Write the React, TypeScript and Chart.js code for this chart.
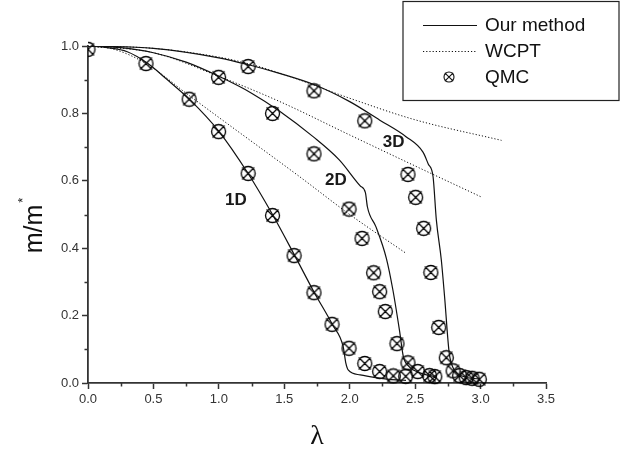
import React, { useEffect, useRef } from 'react';
import { Chart, registerables } from 'chart.js';

Chart.register(...registerables);

// ---- tick values ----
const xTickValues = [0, 0.5, 1.0, 1.5, 2.0, 2.5, 3.0, 3.5];
const yTickValues = [0, 0.2, 0.4, 0.6, 0.8, 1.0];

// ---- series names ----
const seriesNames = ['Our method', 'WCPT', 'QMC'];
const dimNames = ['1D', '2D', '3D'];

// ---- Our method (solid) ----
const method1D: number[][] = [
  [0, 1], [0.15, 0.995], [0.3, 0.983], [0.45, 0.95], [0.6, 0.902], [0.78, 0.84], [1.0, 0.747],
  [1.22, 0.624], [1.41, 0.5], [1.58, 0.378], [1.73, 0.268], [1.87, 0.172], [1.95, 0.108],
  [1.97, 0.06], [1.99, 0.038], [2.08, 0.024], [2.2, 0.016], [2.3, 0.011], [2.43, 0.008],
];
const method2D: number[][] = [
  [0, 1], [0.25, 0.995], [0.5, 0.98], [0.75, 0.952], [1.0, 0.91], [1.25, 0.86], [1.47, 0.805],
  [1.72, 0.731], [1.92, 0.662], [2.08, 0.585], [2.12, 0.565], [2.135, 0.523], [2.2, 0.464],
  [2.28, 0.37], [2.33, 0.276], [2.38, 0.157], [2.41, 0.078], [2.45, 0.05], [2.49, 0.038],
  [2.61, 0.022], [2.66, 0.019],
];
const method3D: number[][] = [
  [0, 1], [0.5, 0.993], [1.0, 0.965], [1.22, 0.945], [1.47, 0.918], [1.73, 0.885], [2.0, 0.835],
  [2.23, 0.78], [2.43, 0.731], [2.56, 0.685], [2.6, 0.65], [2.637, 0.612], [2.662, 0.484],
  [2.7, 0.365], [2.725, 0.256], [2.76, 0.09], [2.79, 0.045], [2.865, 0.02], [2.99, 0.012],
];

// ---- WCPT (dotted) ----
const wcpt1D: number[][] = [
  [0, 1], [0.2, 0.99], [0.443, 0.948], [0.773, 0.853], [1.0, 0.788], [1.618, 0.612], [2.0, 0.5], [2.43, 0.385],
];
const wcpt2D: number[][] = [
  [0, 1], [0.5, 0.98], [1.0, 0.91], [1.466, 0.835], [2.0, 0.736], [2.5, 0.644], [3.0, 0.553],
];
const wcpt3D: number[][] = [
  [0, 1], [0.5, 0.993], [1.0, 0.967], [1.25, 0.945], [1.5, 0.915], [2.0, 0.845], [2.5, 0.781], [3.16, 0.72],
];

// ---- QMC (markers) ----
const qmc1D: number[][] = [
  [0, 0.99], [0.443, 0.948], [0.773, 0.842], [0.998, 0.746], [1.224, 0.622], [1.41, 0.497],
  [1.575, 0.378], [1.727, 0.268], [1.865, 0.174], [1.995, 0.103], [2.115, 0.058], [2.229, 0.034],
  [2.333, 0.021],
];
const qmc2D: number[][] = [
  [0.998, 0.907], [1.41, 0.8], [1.727, 0.68], [1.995, 0.516], [2.094, 0.429], [2.183, 0.327],
  [2.229, 0.271], [2.272, 0.212], [2.361, 0.117], [2.445, 0.06], [2.428, 0.02], [2.52, 0.034],
  [2.61, 0.022], [2.65, 0.019],
];
const qmc3D: number[][] = [
  [1.224, 0.939], [1.727, 0.867], [2.115, 0.778], [2.445, 0.619], [2.504, 0.551], [2.565, 0.459],
  [2.62, 0.328], [2.68, 0.165], [2.738, 0.075], [2.79, 0.036], [2.84, 0.022], [2.89, 0.016],
  [2.935, 0.014], [2.99, 0.011],
];

// ---- curve annotation anchors (data units) ----
const dimLabelAnchors: number[][] = [[1.13, 0.543], [1.895, 0.602], [2.336, 0.715]];

const AXIS = '#333';
const INK = '#111';
const SANS = 'Arial, "Liberation Sans", Helvetica, sans-serif';

function drawQmcMark(ctx: CanvasRenderingContext2D, cx: number, cy: number, r: number, arm: number) {
  ctx.beginPath();
  ctx.arc(cx, cy, r, 0, Math.PI * 2);
  ctx.moveTo(cx - arm, cy - arm);
  ctx.lineTo(cx + arm, cy + arm);
  ctx.moveTo(cx + arm, cy - arm);
  ctx.lineTo(cx - arm, cy + arm);
  ctx.stroke();
}

function makeMarker(): HTMLCanvasElement {
  const c = document.createElement('canvas');
  c.width = 17;
  c.height = 17;
  const g = c.getContext('2d')!;
  g.strokeStyle = '#000';
  g.lineWidth = 1.3;
  drawQmcMark(g, 8.5, 8.5, 7, 6);
  return c;
}

const toXY = (arr: number[][]) => arr.map(([x, y]) => ({ x, y }));

export default function App() {
  const ref = useRef<HTMLCanvasElement | null>(null);

  useEffect(() => {
    if (!ref.current) return;
    const marker = makeMarker();
    const methodSets = [method1D, method2D, method3D];
    const wcptSets = [wcpt1D, wcpt2D, wcpt3D];
    const qmcSets = [qmc1D, qmc2D, qmc3D];
    const datasets: any[] = [];
    methodSets.forEach((d, i) => datasets.push({
      label: seriesNames[0] + ' ' + dimNames[i], group: seriesNames[0], data: toXY(d), showLine: true,
      borderColor: INK, borderWidth: 1.2, pointRadius: 0, cubicInterpolationMode: 'monotone', fill: false,
    }));
    wcptSets.forEach((d, i) => datasets.push({
      label: seriesNames[1] + ' ' + dimNames[i], group: seriesNames[1], data: toXY(d), showLine: true,
      borderColor: INK, borderWidth: 1, borderDash: [1.2, 2], pointRadius: 0, cubicInterpolationMode: 'monotone', fill: false,
    }));
    qmcSets.forEach((d, i) => datasets.push({
      label: seriesNames[2] + ' ' + dimNames[i], group: seriesNames[2], data: toXY(d), showLine: false,
      pointStyle: marker, pointRadius: 7, clip: { left: 0, top: 10, right: 10, bottom: 10 },
    }));

    const decor = {
      id: 'decor',
      afterDraw(chart: any) {
        const { ctx, chartArea } = chart;
        const xs = chart.scales.x;
        const ys = chart.scales.y;
        ctx.save();
        // minor ticks
        ctx.strokeStyle = AXIS;
        ctx.lineWidth = 1.5;
        ctx.beginPath();
        for (let i = 0; i < xTickValues.length - 1; i++) {
          const px = Math.round(xs.getPixelForValue((xTickValues[i] + xTickValues[i + 1]) / 2)) + 0.5;
          ctx.moveTo(px, chartArea.bottom);
          ctx.lineTo(px, chartArea.bottom + 3.5);
        }
        for (let i = 0; i < yTickValues.length - 1; i++) {
          const py = Math.round(ys.getPixelForValue((yTickValues[i] + yTickValues[i + 1]) / 2)) + 0.5;
          ctx.moveTo(chartArea.left, py);
          ctx.lineTo(chartArea.left - 3.5, py);
        }
        ctx.stroke();

        // curve labels
        ctx.fillStyle = '#1a1a1a';
        ctx.font = `bold 17px ${SANS}`;
        ctx.textAlign = 'center';
        ctx.textBaseline = 'middle';
        dimNames.forEach((t, i) => {
          const [vx, vy] = dimLabelAnchors[i];
          ctx.fillText(t, xs.getPixelForValue(vx), ys.getPixelForValue(vy));
        });

        // y title  m/m*
        ctx.save();
        ctx.translate(42, 229);
        ctx.rotate(-Math.PI / 2);
        ctx.font = `25px ${SANS}`;
        ctx.textAlign = 'center';
        ctx.textBaseline = 'alphabetic';
        ctx.fillStyle = INK;
        const w = ctx.measureText('m/m').width;
        ctx.fillText('m/m', 0, 0);
        ctx.font = `13px ${SANS}`;
        ctx.textAlign = 'left';
        ctx.fillText('*', w / 2 + 2, -15);
        ctx.restore();

        // x title λ
        ctx.font = `28px "Liberation Serif", "Times New Roman", serif`;
        ctx.textAlign = 'center';
        ctx.textBaseline = 'alphabetic';
        ctx.fillStyle = INK;
        ctx.fillText('λ', 317, 444);

        // legend
        const bx = 403, by = 1.5, bw = 216, bh = 99;
        ctx.strokeStyle = '#222';
        ctx.lineWidth = 1.2;
        ctx.strokeRect(bx, by, bw, bh);
        const groups: string[] = [];
        const styles: any[] = [];
        chart.data.datasets.forEach((ds: any) => {
          if (!groups.includes(ds.group)) { groups.push(ds.group); styles.push(ds); }
        });
        ctx.font = `19px ${SANS}`;
        ctx.textAlign = 'left';
        ctx.textBaseline = 'middle';
        groups.forEach((g, i) => {
          const rowY = 25 + i * 26;
          const ds = styles[i];
          ctx.strokeStyle = INK;
          if (ds.showLine) {
            ctx.lineWidth = ds.borderWidth;
            ctx.setLineDash(ds.borderDash || []);
            ctx.beginPath();
            ctx.moveTo(423, rowY + 0.5);
            ctx.lineTo(477, rowY + 0.5);
            ctx.stroke();
            ctx.setLineDash([]);
          } else {
            ctx.lineWidth = 1.1;
            drawQmcMark(ctx, 449, rowY, 5, 4.2);
          }
          ctx.fillStyle = INK;
          ctx.fillText(g, 485, rowY + 1);
        });
        ctx.restore();
      },
    };

    const chart = new Chart(ref.current, {
      type: 'scatter',
      data: { datasets },
      options: {
        animation: false,
        responsive: false,
        layout: { padding: { left: 0, top: 46, right: 77, bottom: 0 } },
        plugins: { legend: { display: false }, tooltip: { enabled: false }, title: { display: false } },
        scales: {
          x: {
            type: 'linear', min: 0, max: 3.5,
            afterFit: (s: any) => { s.height = 73; },
            afterBuildTicks: (s: any) => { s.ticks = xTickValues.map((v) => ({ value: v })); },
            ticks: { color: '#333', font: { family: SANS, size: 13 }, padding: 3, maxRotation: 0, autoSkip: false,
              callback: (v: any) => Number(v).toFixed(1) },
            grid: { display: true, drawOnChartArea: false, drawTicks: true, tickLength: 6, tickColor: AXIS, tickWidth: 1.5 },
            border: { display: true, color: AXIS, width: 1.8 },
          },
          y: {
            type: 'linear', min: 0, max: 1,
            afterFit: (s: any) => { s.width = 88; },
            afterBuildTicks: (s: any) => { s.ticks = yTickValues.map((v) => ({ value: v })); },
            ticks: { color: '#333', font: { family: SANS, size: 13 }, padding: 3, autoSkip: false,
              callback: (v: any) => Number(v).toFixed(1) },
            grid: { display: true, drawOnChartArea: false, drawTicks: true, tickLength: 6, tickColor: AXIS, tickWidth: 1.5 },
            border: { display: true, color: AXIS, width: 1.8 },
          },
        },
      } as any,
      plugins: [decor],
    });
    return () => chart.destroy();
  }, []);

  return (
    <div style={{ position: 'absolute', left: 0, top: 0, width: 623, height: 456, background: '#fff' }}>
      <canvas ref={ref} width={623} height={456} style={{ display: 'block' }} />
    </div>
  );
}
